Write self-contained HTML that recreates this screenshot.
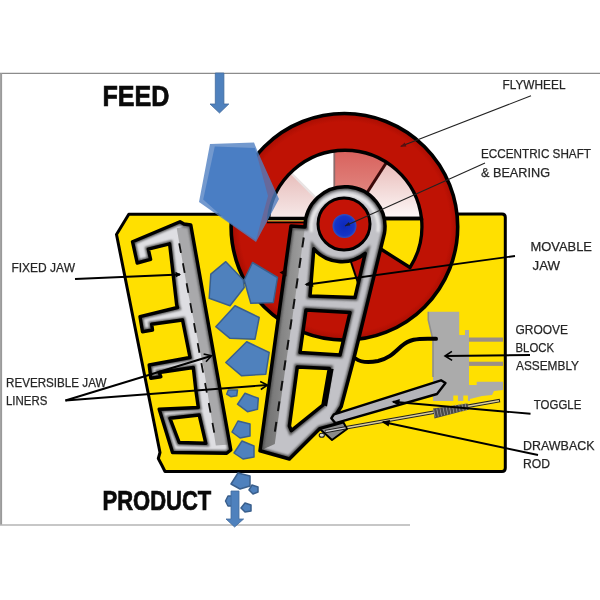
<!DOCTYPE html>
<html>
<head>
<meta charset="utf-8">
<title>Jaw Crusher</title>
<style>
html,body{margin:0;padding:0;background:#fff;}
body{width:600px;height:600px;overflow:hidden;font-family:"Liberation Sans",sans-serif;}
svg{display:block;filter:blur(0.4px);}
text{font-family:"Liberation Sans",sans-serif;}
.lbl{font-size:13.2px;fill:#262626;stroke:#262626;stroke-width:0.25px;}
.big{font-size:29px;font-weight:bold;fill:#0a0a0a;stroke:#0a0a0a;stroke-width:0.7px;}
</style>
</head>
<body>
<svg width="600" height="600" viewBox="0 0 600 600">
<defs>
  <filter id="b1" x="-20%" y="-20%" width="140%" height="140%"><feGaussianBlur stdDeviation="1.25"/></filter>
  <filter id="b2" x="-20%" y="-20%" width="140%" height="140%"><feGaussianBlur stdDeviation="0.6"/></filter>
  <filter id="soft" x="-5%" y="-5%" width="110%" height="110%"><feGaussianBlur stdDeviation="0.45"/></filter>

  <!-- fixed jaw light part -->
  <path id="fj" fill-rule="evenodd" d="M132.5,241.7 L180,221.7 L184,224 L190.8,225 L230.8,450 L226.7,453.3 L172.5,452.5 L159.2,409.2 L198.3,407.5 L195.8,390 L193.3,367.5 L159.2,372.5 L160.8,376.7 L150.8,378.3 L149.2,365 L190,357.5 L182.5,320 L151.7,324.2 L152.5,330 L142.5,331.7 L140,316.7 L177.5,307.5 L176.7,305 L169.6,243.8 L148.3,249.2 L150.6,259.4 L137.2,263 Z M170,418.3 L199.2,415 L205.8,443.3 L179.2,442.5 Z"/>
  <clipPath id="fjc"><use href="#fj" clip-rule="evenodd"/></clipPath>
  <path id="fjd" d="M176.7,228.3 L190.8,225 L229.8,444.5 L215.8,445.5 L204,370 L187.5,290 Z"/>

  <!-- movable jaw -->
  <path id="mj" fill-rule="evenodd" d="M291,226 L260,450.8 L289.4,459 L319.7,428.8 L340,423.3 L335,416.3 L341.2,406.5 L353,362 L384.5,233 A40,40 0 1 0 305,227 Z
     M313.8,248.8 A37,37 0 0 0 365.2,253.4 L355,297.5 L310,296 Z
     M306,310 L350,312.5 L340,355 L300,352.5 Z
     M297.3,367 L329.3,368.6 L323,405 L291.3,430.6 L289.4,426 Z"/>
  <clipPath id="mjc"><use href="#mj" clip-rule="evenodd"/></clipPath>
  <path id="mjd" d="M291,226 L305,227 L274.8,444 L260,450.8 Z"/>

  <clipPath id="upcut"><path d="M268.5,218.5 A77,77 0 0 1 421.5,218.5 Z"/></clipPath>

  <linearGradient id="gPinkL" x1="0" y1="0" x2="0" y2="1">
    <stop offset="0.3" stop-color="#e2aca8"/><stop offset="0.95" stop-color="#f7ecec"/>
  </linearGradient>
  <linearGradient id="gPinkM" x1="0" y1="0" x2="0" y2="1">
    <stop offset="0" stop-color="#d65a55"/><stop offset="1" stop-color="#e8a09a"/>
  </linearGradient>
  <linearGradient id="gPinkR" x1="0" y1="0" x2="0" y2="1">
    <stop offset="0.1" stop-color="#e4aeaa"/><stop offset="0.9" stop-color="#fdf8f8"/>
  </linearGradient>
  <linearGradient id="gDarkPlate" x1="0" y1="0" x2="1" y2="0">
    <stop offset="0" stop-color="#6c6c6c"/><stop offset="1" stop-color="#a0a0a0"/>
  </linearGradient>
  <radialGradient id="gRim" gradientUnits="userSpaceOnUse" cx="345" cy="227" r="113.2">
    <stop offset="0" stop-color="#bf1204"/><stop offset="0.93" stop-color="#bf1204"/><stop offset="1" stop-color="#a60d02"/>
  </radialGradient>
  <radialGradient id="gBlue" cx="0.5" cy="0.5" r="0.5">
    <stop offset="0" stop-color="#0c28b8"/><stop offset="0.8" stop-color="#1434c8"/><stop offset="1" stop-color="#3050c0"/>
  </radialGradient>
</defs>

<rect width="600" height="600" fill="#fff"/>
<!-- frame -->
<line x1="0" y1="73.4" x2="600" y2="73.4" stroke="#8c8c8c" stroke-width="1.2"/>
<line x1="1.1" y1="73" x2="1.1" y2="525" stroke="#9a9a9a" stroke-width="2"/>
<line x1="0" y1="525" x2="410" y2="525" stroke="#b4b4b4" stroke-width="1.4"/>

<!-- yellow box -->
<path d="M128.8,214.2 L502,214 Q505.3,214 505.3,217.3 L505.3,468 Q505.3,471.5 502,471.5 L165,471.5 L162,465.5 L158.3,458.5 L160,452.5 L116.5,234.5 Z" fill="#ffe000" stroke="#000" stroke-width="3" stroke-linejoin="round"/>

<!-- flywheel -->
<g id="wheel">
  <circle cx="344.4" cy="226.8" r="113.3" fill="url(#gRim)" stroke="#000" stroke-width="3.6"/>
  <!-- upper cutout -->
  <path d="M268.5,218.5 A77,77 0 0 1 421.5,218.5 Z" fill="#fff"/>
  <g clip-path="url(#upcut)">
    <polygon points="345,227 241,216 241,123" fill="url(#gPinkL)"/>
    <line x1="345" y1="227" x2="281" y2="163" stroke="#e9e4e4" stroke-width="2.4"/>
    <polygon points="334.5,141 334.5,227 345,227 401,141" fill="url(#gPinkM)"/>
    <line x1="334.3" y1="141" x2="334.3" y2="227" stroke="#8a6c6c" stroke-width="1.8"/>
    <polygon points="345,227 401,141 441,141 441,227" fill="url(#gPinkR)"/>
    <line x1="345" y1="227" x2="390" y2="157" stroke="#3c0a0a" stroke-width="3"/>
  </g>
  <!-- right yellow cutout -->
  <path d="M350,218.5 L421.5,218.5 A77,77 0 0 1 410,267.5 L380,248.5 Z" fill="#ffe000" stroke="#000" stroke-width="3.3" stroke-linejoin="round"/>
  <!-- bottom yellow cutout (seen through window) -->
  <polygon points="347,250 361,292 358,303 300,303 300,245" fill="#ffe000"/>
  <line x1="347" y1="250" x2="361" y2="292" stroke="#000" stroke-width="2"/>
  <!-- left strip -->
  <rect x="268" y="219.6" width="38" height="1.7" fill="#e6cc44"/>
  <line x1="267" y1="222.5" x2="306" y2="222.5" stroke="#000" stroke-width="1.6"/>
  <path d="M268.5,218.5 A77,77 0 0 1 421.5,218.5 Z" fill="none" stroke="#000" stroke-width="3.3"/>
</g>

<!-- fixed jaw -->
<g id="fixedjaw">
  <g clip-path="url(#fjc)">
    <use href="#fj" fill="#dedee2"/>
    <use href="#fjd" fill="#a9a9ab"/>
    <use href="#fj" fill="none" stroke="#555" stroke-width="6" filter="url(#b1)"/>
  </g>
  <use href="#fj" fill="none" stroke="#000" stroke-width="3.4" stroke-linejoin="round"/>
  <path d="M179.2,243.3 L215.7,440.5" fill="none" stroke="#111" stroke-width="1.8" stroke-dasharray="9.8,10.5"/>
</g>

<!-- rocks -->
<g id="rocks" fill="#4f81bd" stroke="#3a5f8c" stroke-width="1.5" stroke-linejoin="round">
  <polygon points="225.8,261.7 210.8,274.2 209.2,298.3 230,305.8 244.2,287.5 243.3,280"/>
  <polygon points="252.5,262.5 244.2,280 250.8,303.3 273.3,302.5 277.5,277.5"/>
  <polygon points="235,305.8 215.8,326.7 230,338.3 255,339.2 259.2,317.5"/>
  <polygon points="246.7,341.7 225.8,362.5 241.7,375.8 265.8,374.2 269.2,352.5"/>
  <polygon points="228.3,390 226.7,394.2 230.8,396.7 236.7,395.8 237.5,390"/>
  <polygon points="245,393.3 237.5,404.2 247.5,411.7 257.5,409.2 258.3,398.3"/>
  <polygon points="238,421 232,432 240,438 250,436 250,424"/>
  <polygon points="242,441 234,453 243,459 254,457 254,446"/>
  <polygon points="238,473 231,484 240,489 250,486 250,476"/>
  <polygon points="252,485 249,490 253,494 258,492 258,487"/>
  <polygon points="245,503 241,508 245,512 251,511 251,505"/>
  <polygon points="228,496 225.5,501 228,506 233,506 233,496"/>
</g>
<!-- big feed rock with motion ghost -->
<g id="bigrock">
  <polygon points="210,144 254,142.4 257,150 279,199 256,242 199,202" fill="#5080c2" opacity="0.8"/>
  <polygon points="214.8,146.6 255,148 268,196 256,240 226,220 203.2,199.5" fill="#4a7ec4"/>
</g>

<!-- movable jaw -->
<g id="movjaw">
  <g clip-path="url(#mjc)">
    <use href="#mj" fill="#c2c2c7"/>
    <use href="#mjd" fill="url(#gDarkPlate)"/>
    <use href="#mj" fill="none" stroke="#505050" stroke-width="6.4" filter="url(#b1)"/>
    <path d="M311.5,232 A33.5,33.5 0 1 1 378,232" fill="none" stroke="#f4f4f4" stroke-width="2.6" filter="url(#b1)" opacity="0.9"/>
  </g>
  <use href="#mj" fill="none" stroke="#000" stroke-width="3.5" stroke-linejoin="round"/>
  <polygon points="329.3,368.6 333.6,369 327,406.5 323,405" fill="#000"/>
  <path d="M303.75,237.5 L273.5,441" fill="none" stroke="#111" stroke-width="2" stroke-dasharray="10,10.7"/>
  <!-- hub -->
  <circle cx="344" cy="224" r="26" fill="#c41306" stroke="#000" stroke-width="3"/>
  <circle cx="344.5" cy="226" r="12" fill="url(#gBlue)"/>
</g>

<!-- groove block -->
<g id="groove">
  <path d="M428.3,311.7 L459.2,311.7 L459.2,335 L465,335 L465,330 L469,330 L469,337.5 L469,385 L476.7,385 L476.7,381.7 L503,381.7 L503,390 L494,391 L492,395 L482,396 L470,399 L470,401 L433,401 L433,377 L433,340 L428.3,320 Z" fill="#ababab"/>
  <rect x="453.3" y="395.5" width="4.6" height="6" fill="#ffe000"/>
  <rect x="463.3" y="395.5" width="4.6" height="6" fill="#ffe000"/>
  <rect x="469" y="337.5" width="34" height="4.2" fill="#9c8f86"/>
  <rect x="469" y="361.7" width="34" height="4.2" fill="#9c8f86"/>
  <path d="M428.3,311.7 L428.3,320 L433,340 L433,377" fill="none" stroke="#8e8e8e" stroke-width="1.6"/>
</g>
<!-- hose -->
<path d="M355.5,358.5 C361,362.5 368,363 378,361 C389,358.5 394,353 401,346.5 C409,339.5 415,338 436,338.8" fill="none" stroke="#000" stroke-width="4" stroke-linecap="round"/>

<!-- drawback rod -->
<g id="rod">
  <path d="M322,432 L500,400.5" fill="none" stroke="#222" stroke-width="3.8"/>
  <path d="M322,432 L499,400.7" fill="none" stroke="#dccf9a" stroke-width="1.6"/>
  <!-- spring -->
  <polygon points="433,408.5 467.5,403.5 469,409.5 434.5,418.5" fill="#4a4a4a"/>
  <path d="M434,413.3 L468,406.3" fill="none" stroke="#9a9a9a" stroke-width="8" stroke-dasharray="0.8,2.4"/>
</g>
<!-- toggle seat -->
<polygon points="320,429 332,440 347,429 343.5,422.5" fill="#8a8a8a" stroke="#000" stroke-width="2" stroke-linejoin="round"/>
<ellipse cx="321.8" cy="435.3" rx="2.6" ry="2" fill="#d8d8c8" stroke="#1a1a1a" stroke-width="1.1"/>
<path d="M325,431.6 L345.5,427.9" fill="none" stroke="#1a1a1a" stroke-width="3.2"/>
<path d="M325.5,431.5 L345.5,427.9" fill="none" stroke="#cfcfd2" stroke-width="1.3"/>
<!-- toggle -->
<polygon points="331.3,418.2 334,414.3 441,380.3 445.5,383 437,394 335.5,423.2" fill="#b4b4ba" stroke="#000" stroke-width="2.4" stroke-linejoin="round"/>

<!-- label lines -->
<g stroke="#222" stroke-width="1.1" fill="none">
  <line x1="531" y1="95.8" x2="401" y2="146.3"/>
  <line x1="485" y1="163" x2="345" y2="226"/>
</g>
<g stroke="#000" stroke-width="1.9" fill="none">
  <line x1="515" y1="256" x2="306" y2="284.8"/>
  <line x1="530" y1="355" x2="446" y2="356"/>
  <line x1="530.5" y1="413.8" x2="393" y2="401.8"/>
  <line x1="538" y1="455" x2="383" y2="422"/>
  <line x1="75" y1="279" x2="180" y2="274.5"/>
  <line x1="65.4" y1="400.5" x2="211" y2="356"/>
  <line x1="65.4" y1="400.5" x2="267" y2="385"/>
</g>

<!-- arrow heads -->
<g id="heads">
<polygon points="404.8,142.5 400.0,146.7 406.4,146.6" fill="#5a1010"/>
<polygon points="312.4,279.9 304.5,284.6 313.4,287.0" fill="#000"/>
<polyline points="451.9,351.4 445.0,356.0 452.1,360.4" fill="none" stroke="#000" stroke-width="1.6" stroke-linejoin="miter"/>
<polygon points="399.8,399.1 391.5,401.7 399.2,405.7" fill="#000"/>
<polygon points="390.0,420.1 381.5,421.7 388.6,426.6" fill="#000"/>
<polygon points="175.6,277.4 181.0,274.4 175.4,271.8" fill="#000"/>
<polyline points="206.0,361.7 211.5,355.8 203.6,354.0" fill="none" stroke="#000" stroke-width="1.6" stroke-linejoin="miter"/>
<polyline points="260.8,389.5 267.5,385.0 260.2,381.5" fill="none" stroke="#000" stroke-width="1.6" stroke-linejoin="miter"/>
<polygon points="279.5,272.5 286.5,268.8 286.5,276.4" fill="#100"/>
<polygon points="348.8,222.1 345.0,225.8 350.3,225.4" fill="#1a1a30"/>
</g>

<!-- labels -->
<g class="lbl">
  <text x="502.5" y="88.6" textLength="63" lengthAdjust="spacingAndGlyphs">FLYWHEEL</text>
  <text x="481" y="158" textLength="110" lengthAdjust="spacingAndGlyphs">ECCENTRIC SHAFT</text>
  <text x="481" y="176.6" textLength="69" lengthAdjust="spacingAndGlyphs">&amp; BEARING</text>
  <text x="530.5" y="251.3" textLength="61.5" lengthAdjust="spacingAndGlyphs">MOVABLE</text>
  <text x="532.5" y="270" textLength="27.5" lengthAdjust="spacingAndGlyphs">JAW</text>
  <text x="515.5" y="334" textLength="52.5" lengthAdjust="spacingAndGlyphs">GROOVE</text>
  <text x="515.5" y="352" textLength="38.5" lengthAdjust="spacingAndGlyphs">BLOCK</text>
  <text x="516" y="370" textLength="63" lengthAdjust="spacingAndGlyphs">ASSEMBLY</text>
  <text x="533.8" y="408.7" textLength="47.5" lengthAdjust="spacingAndGlyphs">TOGGLE</text>
  <text x="523" y="449.7" textLength="71.5" lengthAdjust="spacingAndGlyphs">DRAWBACK</text>
  <text x="523" y="468.1" textLength="27" lengthAdjust="spacingAndGlyphs">ROD</text>
  <text x="11.4" y="272.4" textLength="63.6" lengthAdjust="spacingAndGlyphs">FIXED JAW</text>
  <text x="6" y="387.2" textLength="100.5" lengthAdjust="spacingAndGlyphs">REVERSIBLE JAW</text>
  <text x="6" y="405.4" textLength="41.4" lengthAdjust="spacingAndGlyphs">LINERS</text>
</g>

<!-- FEED / PRODUCT -->
<text class="big" x="102.5" y="105.8" textLength="67" lengthAdjust="spacingAndGlyphs">FEED</text>
<text class="big" style="font-size:26.9px" x="102.5" y="509.8" textLength="108.8" lengthAdjust="spacingAndGlyphs">PRODUCT</text>
<!-- arrows -->
<g fill="#4f81bd" stroke="#41699c" stroke-width="0.8">
  <path d="M215.3,73 L223.9,73 L223.9,104 L228.8,104 L219.5,113 L210,104 L215.3,104 Z"/>
  <path d="M231,491 L239,491 L239,519 L243.6,519 L234.6,527 L226,519 L231,519 Z"/>
</g>
</svg>
</body>
</html>
